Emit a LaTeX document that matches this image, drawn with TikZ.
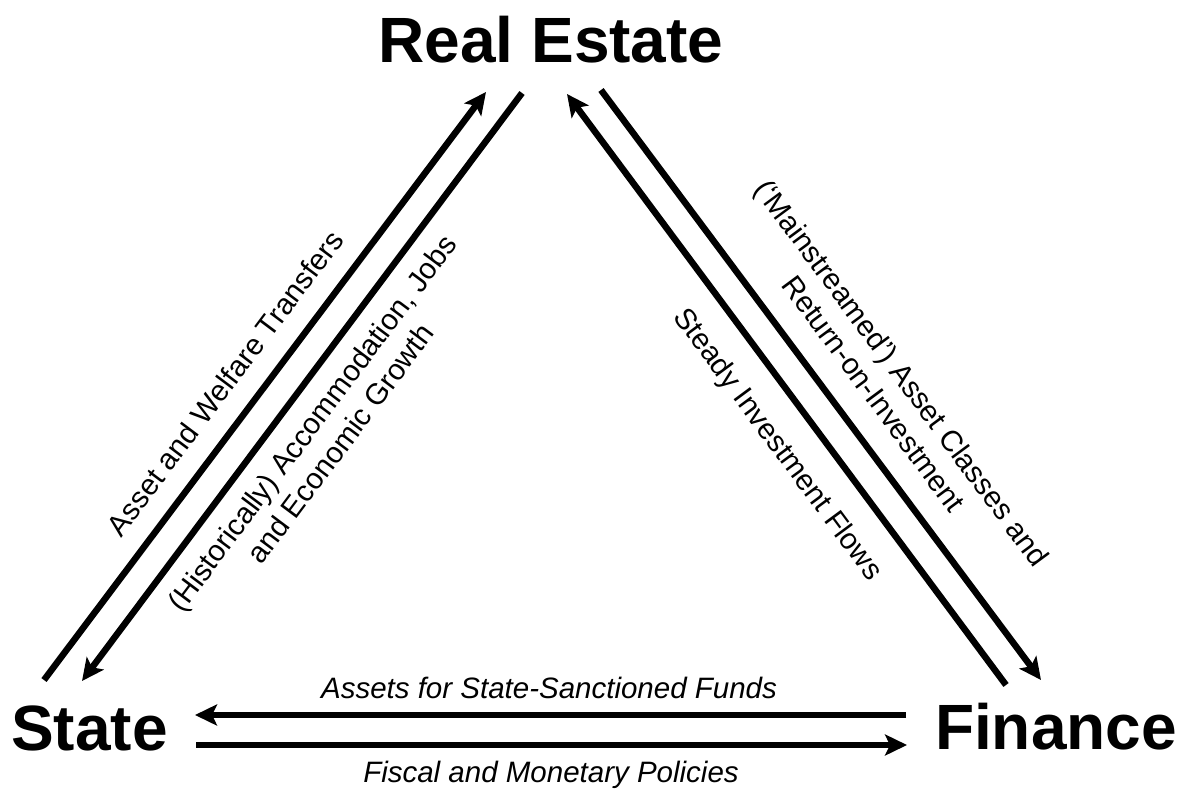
\documentclass[tikz,border=0pt]{standalone}
\usepackage{fontspec}
\setmainfont{Liberation Sans}
\usetikzlibrary{arrows.meta}
\begin{document}
\begin{tikzpicture}[x=1pt,y=-1pt,
  title/.style={font=\fontsize{64}{70}\selectfont\bfseries, anchor=base, inner sep=0},
  lbl/.style={font=\fontsize{29.5}{35}\selectfont, align=center, inner sep=0},
  ilbl/.style={font=\fontsize{29.5}{35}\selectfont\itshape, inner sep=0},
  arr/.style={line width=6.5pt, -{Stealth[length=22pt,width=21pt,inset=5pt]}},
  ln/.style={line width=6.5pt}]
\useasboundingbox (0,0) rectangle (1186,792);
% titles
\node[title] (re) at (551,63) {Real Estate};
\node[title] (st) at (89.5,750) {State};
\node[title] (fi) at (1056,749) {Finance};
% arrow end points
\coordinate (a1s) at (44,680);  \coordinate (a1e) at (486,92);
\coordinate (a2s) at (522,93);  \coordinate (a2e) at (82,681);
\coordinate (a3s) at (1006,685);\coordinate (a3e) at (567,94);
\coordinate (a4s) at (601,90);  \coordinate (a4e) at (1041,680);
\coordinate (a5s) at (906,715); \coordinate (a5e) at (195,715);
\coordinate (a6s) at (196,745); \coordinate (a6e) at (907,745);
% connectors
\draw[arr] (a1s) -- (a1e);
\draw[arr] (a2s) -- (a2e);
\draw[arr] (a3s) -- (a3e);
\draw[arr] (a4s) -- (a4e);
\draw[arr] (a5s) -- (a5e);
\draw[arr] (a6s) -- (a6e);
% labels
\node[lbl, rotate=53.1] (l1) at (225,383) {Asset and Welfare Transfers};
\node[lbl, rotate=53.2] (l2) at (326,433) {(Historically) Accommodation, Jobs\\and Economic Growth};
\node[lbl, rotate=-53.5] (l3) at (777,445) {Steady Investment Flows};
\node[lbl, rotate=-53.5] (l4) at (888,383) {(‘Mainstreamed’) Asset Classes and\\Return-on-Investment};
\node[ilbl] (l5) at (549,688) {Assets for State-Sanctioned Funds};
\node[ilbl] (l6) at (551,775) {Fiscal and Monetary Policies};
\end{tikzpicture}
\end{document}
